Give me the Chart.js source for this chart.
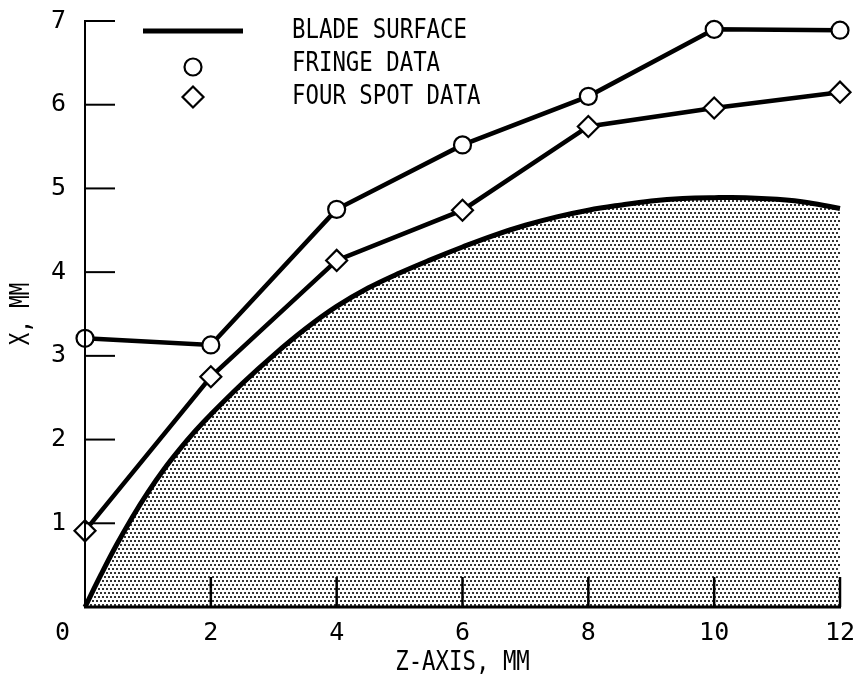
<!DOCTYPE html>
<html>
<head>
<meta charset="utf-8">
<title>Blade surface, fringe and four spot data</title>
<script src="https://cdn.jsdelivr.net/npm/chart.js@4/dist/chart.umd.min.js"></script>
<style>
  html, body { margin: 0; padding: 0; background: #fff; }
  #wrap { width: 858px; height: 679px; position: relative; }
</style>
</head>
<body>
<div id="wrap"><canvas id="chart"></canvas></div>
<script>
// Axis ticks (Z along the blade, X normal to it), both in mm
const zTickValues = [0, 2, 4, 6, 8, 10, 12];
const xTickValues = [0, 1, 2, 3, 4, 5, 6, 7];

// Measured points
const sampleZ = [0, 2, 4, 6, 8, 10, 12];
const fringeX = [3.21, 3.13, 4.75, 5.52, 6.10, 6.90, 6.89];
const fourSpotX = [0.91, 2.75, 4.14, 4.74, 5.74, 5.96, 6.15];

// Blade surface profile
const bladeZ = [0, 0.25, 0.5, 0.75, 1, 1.25, 1.5, 1.75, 2, 2.5, 3, 3.5, 4, 4.5, 5, 5.5, 6, 6.5, 7, 7.5, 8, 8.5, 9, 9.5, 10, 10.5, 11, 11.5, 12];
const bladeX = [0, 0.38, 0.74, 1.07, 1.37, 1.64, 1.88, 2.10, 2.30, 2.67, 3.01, 3.32, 3.59, 3.81, 3.99, 4.15, 4.30, 4.44, 4.56, 4.66, 4.74, 4.80, 4.85, 4.88, 4.89, 4.89, 4.87, 4.83, 4.76];

const seriesNames = ['BLADE SURFACE', 'FRINGE DATA', 'FOUR SPOT DATA'];
const zAxisTitle = 'Z-AXIS, MM';
const xAxisTitle = 'X, MM';

const FONT = '"DejaVu Sans Mono", "Liberation Mono", monospace';
const INK = '#000';

const toPoints = (xs, ys) => xs.map((v, i) => ({ x: v, y: ys[i] }));

// Stippled halftone for the blade cross-section
function stipple() {
  const t = document.createElement('canvas');
  t.width = 4; t.height = 8;
  const g = t.getContext('2d');
  g.fillStyle = '#fff';
  g.fillRect(0, 0, 4, 8);
  g.fillStyle = '#333';
  g.fillRect(0, 0, 2, 2);
  g.fillRect(2, 4, 2, 2);
  return g.createPattern(t, 'repeat');
}

// Condensed text, squeezed along its run
function condensedText(ctx, text, x, cy, size, squeeze, angle, align) {
  ctx.save();
  ctx.translate(x, cy);
  if (angle) ctx.rotate(angle);
  ctx.scale(squeeze, 1);
  ctx.font = size + 'px ' + FONT;
  ctx.fillStyle = INK;
  ctx.textBaseline = 'middle';
  ctx.textAlign = align || 'center';
  ctx.fillText(text, 0, 0);
  ctx.restore();
}

// Axis lines, inward tick marks, axis titles and the key
const framePlugin = {
  id: 'frame',
  afterDatasetsDraw(chart) {
    const { ctx, scales: { x, y } } = chart;
    const x0 = x.getPixelForValue(zTickValues[0]);
    const x1 = x.getPixelForValue(zTickValues[zTickValues.length - 1]);
    const y0 = y.getPixelForValue(xTickValues[0]);
    const y1 = y.getPixelForValue(xTickValues[xTickValues.length - 1]);
    ctx.save();
    ctx.strokeStyle = INK;
    ctx.lineCap = 'butt';

    // vertical axis with ticks pointing into the plot
    ctx.lineWidth = 2;
    ctx.beginPath();
    ctx.moveTo(x0, y0 + 1);
    ctx.lineTo(x0, y1 - 1);
    ctx.stroke();
    xTickValues.slice(1).forEach(v => {
      const py = y.getPixelForValue(v);
      ctx.beginPath();
      ctx.moveTo(x0, py);
      ctx.lineTo(x0 + 30, py);
      ctx.stroke();
    });

    // horizontal axis with upward ticks
    ctx.lineWidth = 3;
    ctx.beginPath();
    ctx.moveTo(x0 - 1, y0);
    ctx.lineTo(x1 + 1, y0);
    ctx.stroke();
    ctx.lineWidth = 2.5;
    zTickValues.slice(1).forEach(v => {
      const px = x.getPixelForValue(v);
      ctx.beginPath();
      ctx.moveTo(px, y0);
      ctx.lineTo(px, y0 - 30);
      ctx.stroke();
    });
    ctx.restore();

    // axis titles
    condensedText(ctx, zAxisTitle, (x0 + x1) / 2, 663, 26, 0.86, 0);
    condensedText(ctx, xAxisTitle, 22, (y0 + y1) / 2, 26, 0.8, -Math.PI / 2);

    // key
    const ds = chart.data.datasets;
    const keyX = 193, textX = 292;
    const rows = [31, 64.5, 97];
    const markRows = [31, 67, 97];
    ctx.save();
    ctx.strokeStyle = ds[0].borderColor;
    ctx.lineWidth = ds[0].borderWidth;
    ctx.beginPath();
    ctx.moveTo(143, markRows[0]);
    ctx.lineTo(243, markRows[0]);
    ctx.stroke();
    [1, 2].forEach(i => {
      ctx.fillStyle = ds[i].pointBackgroundColor;
      ctx.strokeStyle = ds[i].pointBorderColor;
      ctx.lineWidth = ds[i].pointBorderWidth;
      Chart.helpers.drawPoint(ctx, {
        pointStyle: ds[i].pointStyle,
        radius: ds[i].pointRadius,
        rotation: 0,
        borderWidth: ds[i].pointBorderWidth
      }, keyX, markRows[i]);
    });
    ctx.restore();
    seriesNames.forEach((name, i) => condensedText(ctx, name, textX, rows[i], 26, 0.86, 0, 'left'));
  }
};

const ctx = document.getElementById('chart').getContext('2d');
new Chart(ctx, {
  type: 'line',
  data: {
    datasets: [
      {
        label: seriesNames[0],
        data: toPoints(bladeZ, bladeX),
        borderColor: INK,
        borderWidth: 5,
        backgroundColor: stipple(),
        fill: 'origin',
        pointRadius: 0,
        tension: 0.4,
        clip: false,
        order: 3
      },
      {
        label: seriesNames[1],
        data: toPoints(sampleZ, fringeX),
        borderColor: INK,
        borderWidth: 4.5,
        pointStyle: 'circle',
        pointRadius: 8.5,
        pointBorderWidth: 2.2,
        pointBorderColor: INK,
        pointBackgroundColor: '#fff',
        tension: 0,
        fill: false,
        clip: false,
        order: 1
      },
      {
        label: seriesNames[2],
        data: toPoints(sampleZ, fourSpotX),
        borderColor: INK,
        borderWidth: 4.5,
        pointStyle: 'rectRot',
        pointRadius: 10.5,
        pointBorderWidth: 2.2,
        pointBorderColor: INK,
        pointBackgroundColor: '#fff',
        tension: 0,
        fill: false,
        clip: false,
        order: 2
      }
    ]
  },
  options: {
    responsive: true,
    maintainAspectRatio: false,
    animation: false,
    events: [],
    layout: { autoPadding: false, padding: { top: 21, right: 18, left: 0, bottom: 0 } },
    plugins: { legend: { display: false }, tooltip: { enabled: false } },
    scales: {
      x: {
        type: 'linear',
        min: 0, max: 12,
        afterBuildTicks: s => { s.ticks = zTickValues.map(v => ({ value: v })); },
        afterFit: s => { s.height = 72; s.paddingLeft = 0; s.paddingRight = 0; },
        grid: { display: false, drawTicks: false },
        border: { display: false },
        ticks: {
          padding: 11,
          color: INK,
          font: { family: FONT, size: 25 },
          maxRotation: 0,
          autoSkip: false,
          callback: v => (v === 0 ? '0   ' : String(v))
        }
      },
      y: {
        type: 'linear',
        min: 0, max: 7,
        afterBuildTicks: s => { s.ticks = xTickValues.map(v => ({ value: v })); },
        afterFit: s => { s.width = 85; s.paddingTop = 0; s.paddingBottom = 0; },
        grid: { display: false, drawTicks: false },
        border: { display: false },
        ticks: {
          padding: 19,
          color: INK,
          font: { family: FONT, size: 25 },
          autoSkip: false,
          callback: v => (v === 0 ? '' : String(v))
        }
      }
    }
  },
  plugins: [framePlugin]
});
</script>
</body>
</html>
